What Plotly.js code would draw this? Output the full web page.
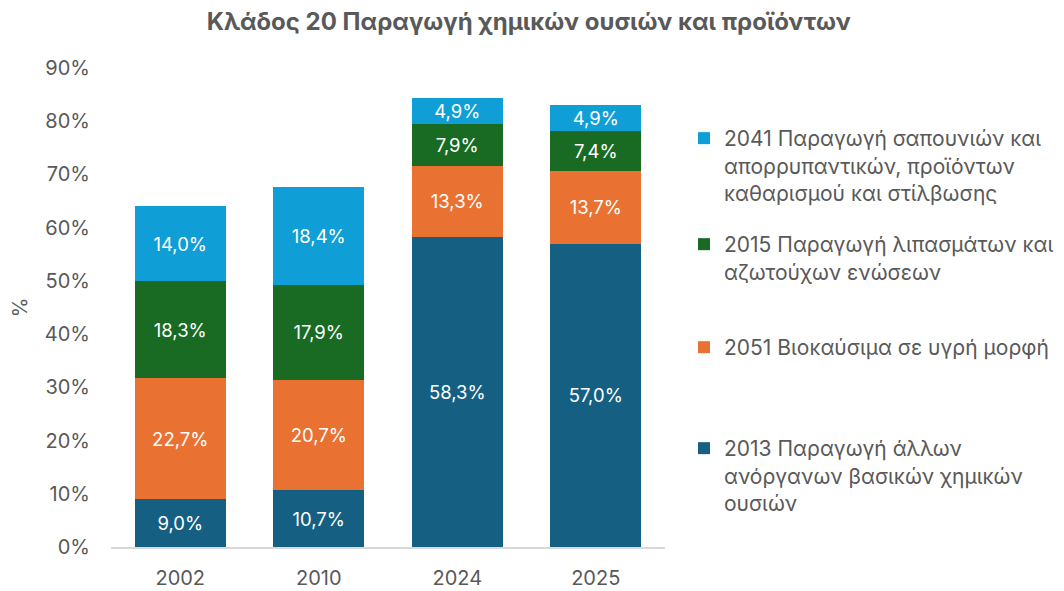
<!DOCTYPE html>
<html>
<head>
<meta charset="utf-8">
<script src="https://cdn.plot.ly/plotly-3.0.1.min.js"></script>
<style>html,body{margin:0;padding:0;background:#fff;}#chart{width:1064px;height:591px;}</style>
</head>
<body>
<div id="chart"></div>
<script>
const categories = ["2002", "2010", "2024", "2025"];
const seriesNames = [
  "2013 Παραγωγή άλλων<br>ανόργανων βασικών χημικών<br>ουσιών",
  "2051 Βιοκαύσιμα σε υγρή μορφή",
  "2015 Παραγωγή λιπασμάτων και<br>αζωτούχων ενώσεων",
  "2041 Παραγωγή σαπουνιών και<br>απορρυπαντικών, προϊόντων<br>καθαρισμού και στίλβωσης"
];
const s2013 = [9.0, 10.7, 58.3, 57.0];
const s2051 = [22.7, 20.7, 13.3, 13.7];
const s2015 = [18.3, 17.9, 7.9, 7.4];
const s2041 = [14.0, 18.4, 4.9, 4.9];
const yTicks = [0, 10, 20, 30, 40, 50, 60, 70, 80, 90];

const colors = ["#156082", "#E97132", "#196B24", "#0F9ED5"];
const legends = ["legend4", "legend3", "legend2", "legend"];
const values = [s2013, s2051, s2015, s2041];
const FONT = "Inter, 'Noto Sans', sans-serif";

const fmt = v => v.toFixed(1).replace('.', ',') + '%';

const traces = values.map((vals, i) => ({
  type: 'bar',
  name: seriesNames[i],
  x: categories,
  y: vals,
  text: vals.map(fmt),
  textposition: 'inside',
  insidetextanchor: 'middle',
  constraintext: 'none',
  textangle: 0,
  textfont: {family: FONT, size: 18.5, color: '#ffffff'},
  marker: {color: colors[i], line: {width: 0}},
  hoverinfo: 'skip',
  legend: legends[i]
}));

const legBase = {
  font: {family: FONT, size: 21, color: '#595959'},
  bgcolor: 'rgba(0,0,0,0)',
  xref: 'container',
  yref: 'container',
  xanchor: 'left',
  yanchor: 'top',
  x: 684 / 1064,
  valign: 'top',
  itemwidth: 30,
  itemclick: false
};
const py = yTop => (591 - yTop) / 591;

const layout = {
  width: 1064,
  height: 591,
  paper_bgcolor: '#ffffff',
  plot_bgcolor: '#ffffff',
  margin: {l: 111, r: 399, t: 68, b: 44},
  font: {family: FONT, color: '#595959'},
  title: {
    text: '<b>Κλάδος 20 Παραγωγή χημικών ουσιών και προϊόντων</b>',
    font: {family: FONT, size: 24, color: '#595959'},
    x: 0.497, xanchor: 'center', y: 0.963, yanchor: 'middle'
  },
  barmode: 'stack',
  bargap: 0.34,
  showlegend: true,
  legend: Object.assign({}, legBase, {y: py(118)}),
  legend2: Object.assign({}, legBase, {y: py(224)}),
  legend3: Object.assign({}, legBase, {y: py(327)}),
  legend4: Object.assign({}, legBase, {y: py(428)}),
  xaxis: {
    type: 'category',
    tickfont: {family: FONT, size: 20, color: '#595959'},
    showline: true,
    linecolor: '#d9d9d9',
    linewidth: 1.5,
    ticks: '',
    ticklabelstandoff: 12,
    showgrid: false,
    zeroline: false,
    fixedrange: true
  },
  yaxis: {
    range: [0, 90],
    tickvals: yTicks,
    ticktext: yTicks.map(v => v + '%'),
    tickfont: {family: FONT, size: 20, color: '#595959'},
    showgrid: false,
    zeroline: false,
    showline: false,
    ticks: '',
    ticklen: 0,
    ticklabelstandoff: 20,
    title: {text: '%', font: {family: FONT, size: 20, color: '#595959'}, standoff: 11},
    fixedrange: true
  }
};

Plotly.newPlot('chart', traces, layout, {displayModeBar: false, staticPlot: true});
</script>
</body>
</html>
